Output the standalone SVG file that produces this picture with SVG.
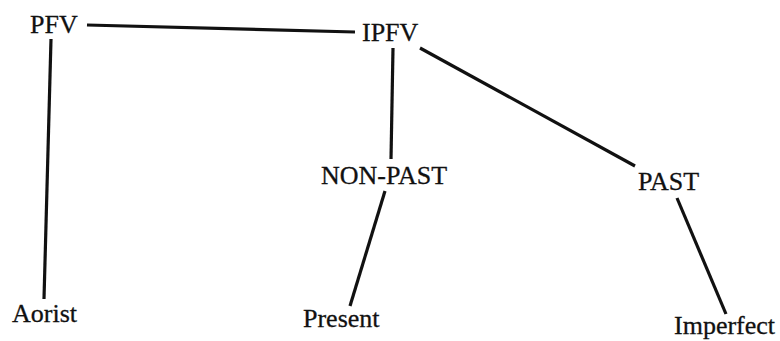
<svg xmlns="http://www.w3.org/2000/svg" width="780" height="341" viewBox="0 0 780 341">
  <style>
    .lbl { font-family: "Liberation Serif", "Times New Roman", serif; font-size: 26px; fill: #111; stroke: #111; stroke-width: 0.3; }
    .edge { stroke: #111; stroke-width: 3.2; stroke-linecap: butt; fill: none; }
  </style>
  <rect width="780" height="341" fill="#fff"/>
  <g id="connectors">
    <line class="edge" x1="87" y1="25" x2="355" y2="32"/>
    <line class="edge" x1="51" y1="39" x2="44" y2="299"/>
    <line class="edge" x1="393" y1="48" x2="391" y2="159"/>
    <line class="edge" x1="420" y1="48" x2="635" y2="166"/>
    <line class="edge" x1="385" y1="191" x2="350" y2="306"/>
    <line class="edge" x1="677" y1="198" x2="726" y2="314"/>
  </g>
  <g id="pfv"><text class="lbl" x="30" y="33">PFV</text></g>
  <g id="ipfv"><text class="lbl" x="362" y="41">IPFV</text></g>
  <g id="non-past"><text class="lbl" x="321" y="184">NON-PAST</text></g>
  <g id="past"><text class="lbl" x="638" y="190">PAST</text></g>
  <g id="aorist"><text class="lbl" x="12" y="322">Aorist</text></g>
  <g id="present"><text class="lbl" x="303" y="327">Present</text></g>
  <g id="imperfect"><text class="lbl" x="674" y="334">Imperfect</text></g>
</svg>
